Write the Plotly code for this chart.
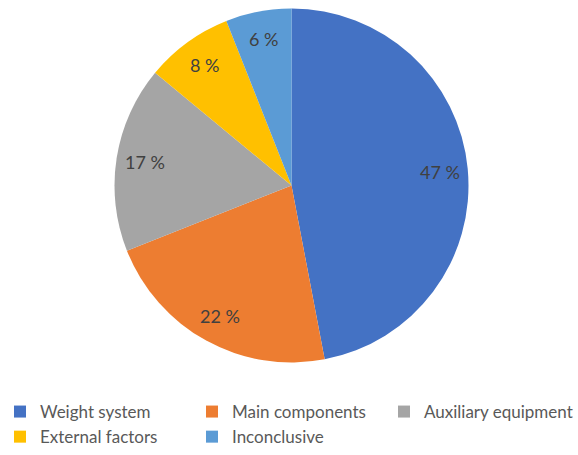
import math
import plotly.graph_objects as go

# Share of fault causes
categories = ["Weight system", "Main components", "Auxiliary equipment",
              "External factors", "Inconclusive"]
shares = [47, 22, 17, 8, 6]
colors = ["#4472C4", "#ED7D31", "#A5A5A5", "#FFC000", "#5B9BD5"]

W, H = 578, 455
cx_px, cy_px, r_px = 291.5, 185.5, 177.0
dom_x = [(cx_px - r_px) / W, (cx_px + r_px) / W]
dom_y = [1 - (cy_px + r_px) / H, 1 - (cy_px - r_px) / H]

fig = go.Figure(go.Pie(
    labels=categories,
    values=shares,
    marker=dict(colors=colors, line=dict(width=0)),
    sort=False,
    direction="clockwise",
    rotation=0,
    textposition="none",
    domain=dict(x=dom_x, y=dom_y),
    hoverinfo="label+percent",
))

# Percentage labels placed along each slice's bisector
total = sum(shares)
acc = 0.0
for v in shares:
    mid = (acc + v / 2) / total * 2 * math.pi
    acc += v
    rr = 0.84 * r_px
    px = cx_px + rr * math.sin(mid)
    py = cy_px - rr * math.cos(mid)
    fig.add_annotation(
        x=px / W, y=1 - py / H, xref="paper", yref="paper",
        xanchor="center", yanchor="middle",
        text=f"{v} %", showarrow=False,
        font=dict(family="Lato", size=18, color="#404040"),
    )

fig.update_layout(
    width=W, height=H,
    margin=dict(l=0, r=0, t=0, b=0, autoexpand=False),
    paper_bgcolor="white",
    plot_bgcolor="white",
    font=dict(family="Lato", color="#595959"),
    showlegend=True,
    legend=dict(
        orientation="h",
        x=0, y=1 - 394 / H,
        xanchor="left", yanchor="top",
        entrywidth=147, entrywidthmode="pixels",
        font=dict(family="Lato", size=17, color="#595959"),
        itemwidth=30,
    ),
)

fig.write_html("out.html")
